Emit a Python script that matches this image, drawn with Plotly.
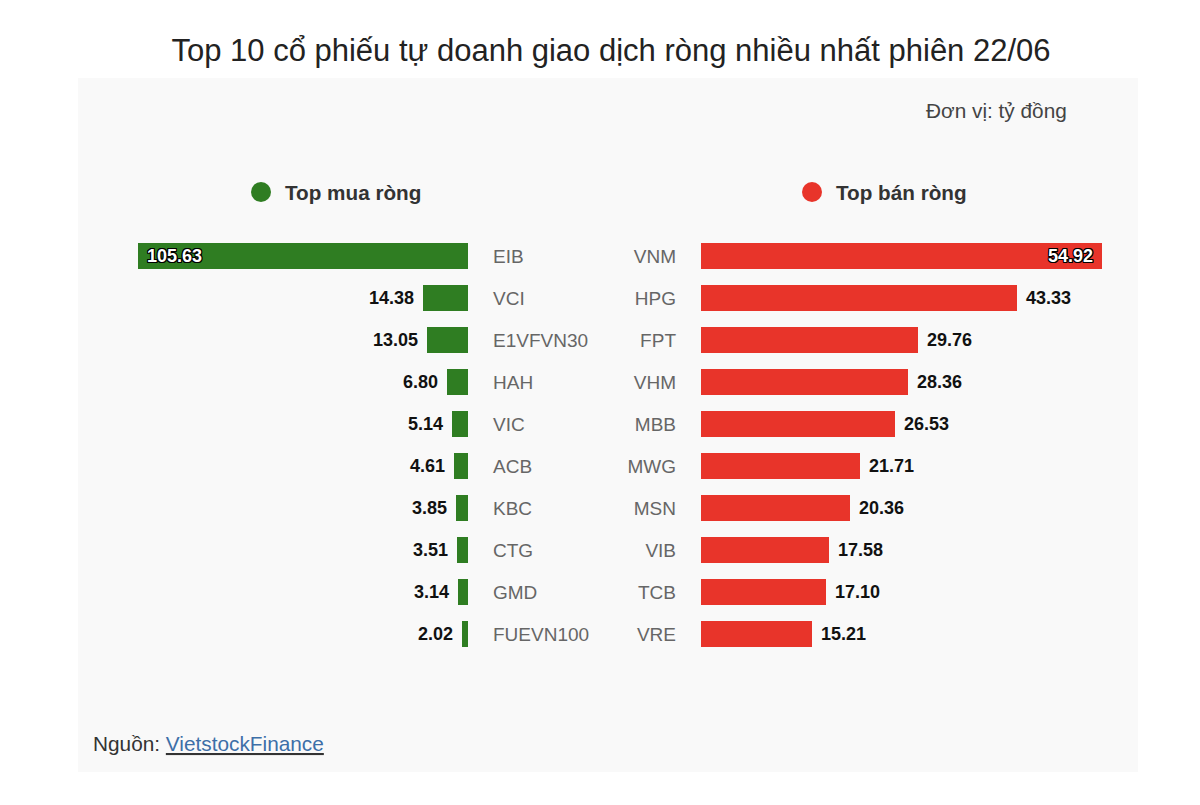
import plotly.graph_objects as go

title = "Top 10 cổ phiếu tự doanh giao dịch ròng nhiều nhất phiên 22/06"
buy_tickers = ["EIB", "VCI", "E1VFVN30", "HAH", "VIC", "ACB", "KBC", "CTG", "GMD", "FUEVN100"]
buy_values = [105.63, 14.38, 13.05, 6.80, 5.14, 4.61, 3.85, 3.51, 3.14, 2.02]
sell_tickers = ["VNM", "HPG", "FPT", "VHM", "MBB", "MWG", "MSN", "VIB", "TCB", "VRE"]
sell_values = [54.92, 43.33, 29.76, 28.36, 26.53, 21.71, 20.36, 17.58, 17.10, 15.21]

GREEN = "#2f7d22"
RED = "#e8342a"
W, H = 1200, 805
FONT = "Liberation Sans, Arial, sans-serif"
OUTLINE = "-1px -1px 0 #000, 1px -1px 0 #000, -1px 1px 0 #000, 1px 1px 0 #000, 0 1px 0 #000, 0 -1px 0 #000, 1px 0 0 #000, -1px 0 0 #000"
SP = "\u2004"

def px(x):
    return x / W

def py(y):
    return 1 - y / H

idx = list(range(len(buy_values)))
fmt = lambda v: f"{v:.2f}"

fig = go.Figure()

def add_side(values, color, xaxis, yaxis, left):
    top = max(values)
    big = [i for i, v in enumerate(values) if v == top]
    rest = [i for i, v in enumerate(values) if v != top]
    out_txt = [(fmt(values[i]) + SP) if left else (SP + fmt(values[i])) for i in rest]
    in_txt = [(SP + fmt(values[i])) if left else (fmt(values[i]) + SP) for i in big]
    fig.add_trace(go.Bar(
        x=[values[i] for i in rest], y=rest, orientation="h",
        marker=dict(color=color, line=dict(width=0)), width=0.6,
        text=out_txt, textposition="outside",
        textfont=dict(family=FONT, size=18, color="#111", weight="bold"),
        cliponaxis=False, xaxis=xaxis, yaxis=yaxis, showlegend=False, hoverinfo="skip"))
    fig.add_trace(go.Bar(
        x=[values[i] for i in big], y=big, orientation="h",
        marker=dict(color=color, line=dict(width=0)), width=0.6,
        text=in_txt, textposition="inside", insidetextanchor="end",
        textfont=dict(family=FONT, size=18, color="#fff", weight="bold", shadow=OUTLINE),
        cliponaxis=False, xaxis=xaxis, yaxis=yaxis, showlegend=False, hoverinfo="skip"))

add_side(buy_values, GREEN, "x", "y", True)
add_side(sell_values, RED, "x2", "y2", False)

ydom = [py(655), py(235)]
yax_common = dict(range=[9.5, -0.5], domain=ydom, tickmode="array", tickvals=idx,
                  showgrid=False, zeroline=False, showline=False, ticks="",
                  tickfont=dict(family=FONT, size=19, color="#666"), ticklabelstandoff=24)

fig.update_layout(
    width=W, height=H,
    margin=dict(l=0, r=0, t=0, b=0),
    paper_bgcolor="#ffffff", plot_bgcolor="rgba(0,0,0,0)",
    barmode="overlay",
    bargap=0,
    xaxis=dict(domain=[px(138), px(468)], range=[max(buy_values), 0], visible=False, fixedrange=True),
    xaxis2=dict(domain=[px(701), px(1102)], range=[0, max(sell_values)], visible=False, fixedrange=True),
    yaxis=dict(anchor="x", side="right", ticktext=buy_tickers, **yax_common),
    yaxis2=dict(anchor="x2", side="left", ticktext=sell_tickers, **yax_common),
    showlegend=False,
    title=dict(text=title, x=px(611), xanchor="center", y=py(50), yanchor="middle",
               font=dict(family=FONT, size=31, color="#222")),
    shapes=[
        dict(type="rect", xref="paper", yref="paper", x0=px(78), x1=px(1138), y0=py(772), y1=py(78),
             fillcolor="#f9f9f9", line=dict(width=0), layer="below"),
        dict(type="circle", xref="paper", yref="paper", x0=px(251), x1=px(271), y0=py(202), y1=py(182),
             fillcolor=GREEN, line=dict(width=0)),
        dict(type="circle", xref="paper", yref="paper", x0=px(802), x1=px(822), y0=py(202), y1=py(182),
             fillcolor=RED, line=dict(width=0)),
    ],
    annotations=[
        dict(text="<b>Top mua ròng</b>", xref="paper", yref="paper", x=px(283), y=py(192),
             xanchor="left", yanchor="middle", showarrow=False,
             font=dict(family=FONT, size=20.7, color="#333")),
        dict(text="<b>Top bán ròng</b>", xref="paper", yref="paper", x=px(834), y=py(192),
             xanchor="left", yanchor="middle", showarrow=False,
             font=dict(family=FONT, size=20.7, color="#333")),
        dict(text="Đơn vị: tỷ đồng", xref="paper", yref="paper", x=px(1069), y=py(110),
             xanchor="right", yanchor="middle", showarrow=False,
             font=dict(family=FONT, size=20.8, color="#444")),
        dict(text="Nguồn: <u><span style='color:#3d6fa8'>VietstockFinance</span></u>", xref="paper", yref="paper",
             x=px(91), y=py(743), xanchor="left", yanchor="middle", showarrow=False,
             font=dict(family=FONT, size=20.8, color="#333")),
    ],
)

fig.write_html("out.html")
